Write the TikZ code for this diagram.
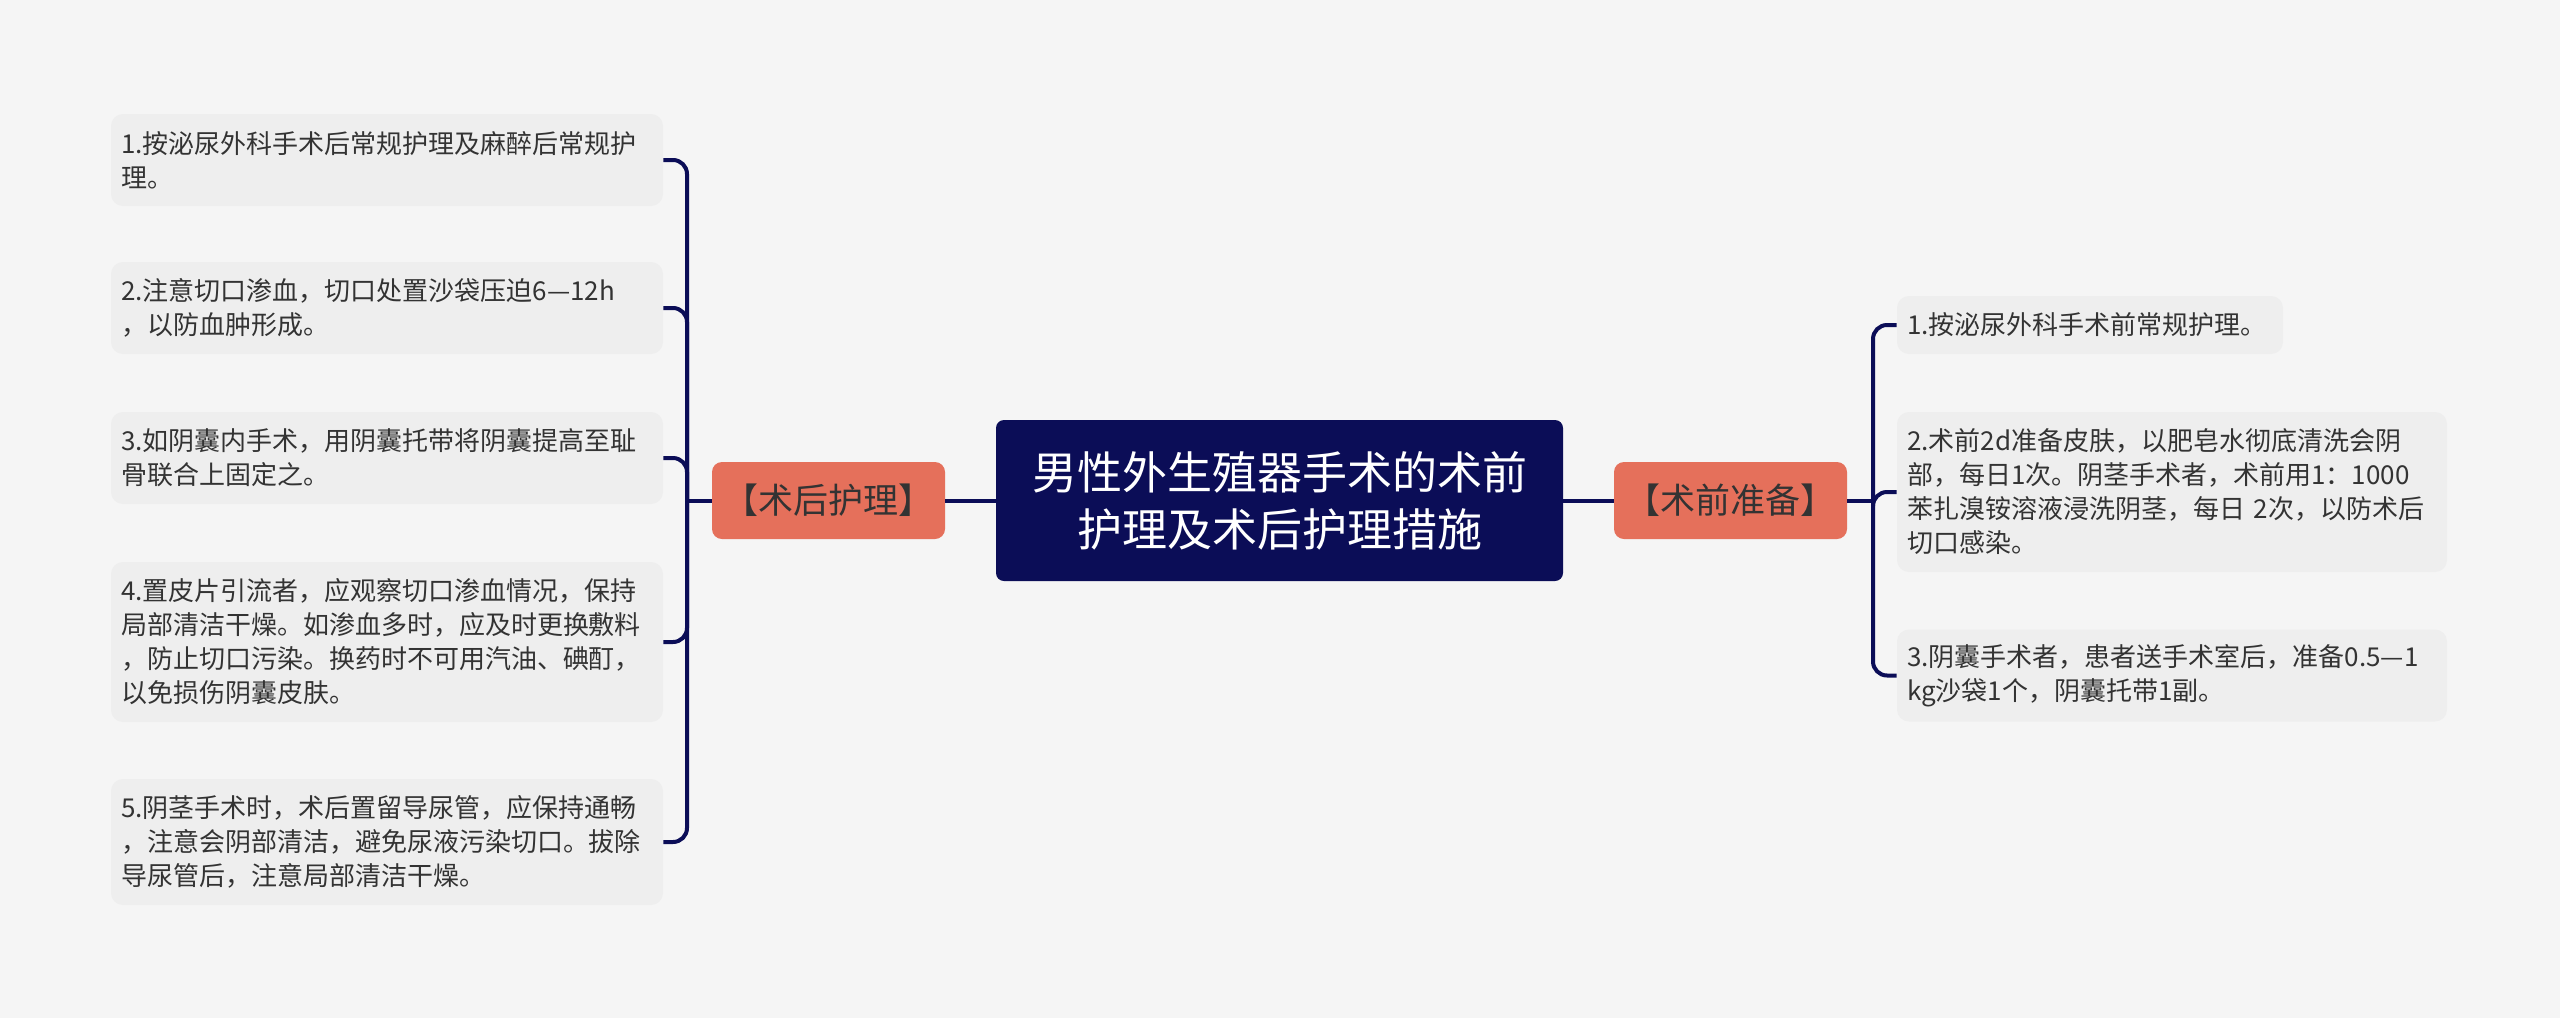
\documentclass[tikz,border=0pt]{standalone}
\usepackage{fontspec}
\setmainfont{Noto Sans CJK SC}
\definecolor{navy}{RGB}{11,13,87}
\definecolor{salmon}{RGB}{229,112,91}
\definecolor{leafgray}{RGB}{238,238,238}
\definecolor{bggray}{RGB}{245,245,245}
\definecolor{ink}{RGB}{51,51,51}

\begin{document}
\begin{tikzpicture}[x=0.5pt,y=-0.5pt,
  root/.style={rectangle,rounded corners=4pt,fill=navy,text=white,align=center,minimum width=283.5pt,minimum height=80.5pt,font=\fontsize{22.5}{28.5}\selectfont},
  branch/.style={rectangle,rounded corners=5pt,fill=salmon,text=ink,minimum width=116.5pt,minimum height=38.5pt,inner xsep=0pt,font=\fontsize{17.5}{20}\selectfont},
  leaf/.style={rectangle,rounded corners=6pt,fill=leafgray,text=ink,align=left,inner xsep=5pt,inner ysep=0pt,font=\fontsize{13}{17}\selectfont},
  nlines/.style={minimum height=12pt+17pt*#1},
  link/.style={draw=navy,line width=2pt,rounded corners=7pt}]
  \fill[bggray] (0,0) rectangle (2560,1018);

  \node [root] (root) at (1279.5,500.5) {男性外生殖器手术的术前\\护理及术后护理措施};
  \node [branch] (post) at (828.5,500.5) {【术后护理】};
  \node [branch] (pre) at (1730.5,500.5) {【术前准备】};

  \node [leaf,nlines=2,text width=266pt] (a1) at (387,160) {1.按泌尿外科手术后常规护理及麻醉后常规护\\理。};
  \node [leaf,nlines=2,text width=266pt] (a2) at (387,308) {2.注意切口渗血，切口处置沙袋压迫6—12h\\，以防血肿形成。};
  \node [leaf,nlines=2,text width=266pt] (a3) at (387,458) {3.如阴囊内手术，用阴囊托带将阴囊提高至耻\\骨联合上固定之。};
  \node [leaf,nlines=4,text width=266pt] (a4) at (387,642) {4.置皮片引流者，应观察切口渗血情况，保持\\局部清洁干燥。如渗血多时，应及时更换敷料\\，防止切口污染。换药时不可用汽油、碘酊，\\以免损伤阴囊皮肤。};
  \node [leaf,nlines=3,text width=266pt] (a5) at (387,842) {5.阴茎手术时，术后置留导尿管，应保持通畅\\，注意会阴部清洁，避免尿液污染切口。拔除\\导尿管后，注意局部清洁干燥。};

  \node [leaf,nlines=1,text width=183pt] (b1) at (2090,325) {1.按泌尿外科手术前常规护理。};
  \node [leaf,nlines=4,text width=265pt] (b2) at (2172,492) {2.术前2d准备皮肤，以肥皂水彻底清洗会阴\\部，每日1次。阴茎手术者，术前用1：1000\\苯扎溴铵溶液浸洗阴茎，每日 2次，以防术后\\切口感染。};
  \node [leaf,nlines=2,text width=265pt] (b3) at (2172,675.5) {3.阴囊手术者，患者送手术室后，准备0.5—1\\kg沙袋1个，阴囊托带1副。};

  \coordinate (pj) at (687,500.5);
  \coordinate (qj) at (1873,500.5);
  \draw [link] (root) -- (post);
  \draw [link] (root) -- (pre);
  \draw [link] (post) -- (pj);
  \draw [link] (pre) -- (qj);
  \foreach \n in {a1,a2,a3,a4,a5}
    \draw [link] (pj) |- (\n.east);
  \foreach \n in {b1,b2,b3}
    \draw [link] (qj) |- (\n.west);
\end{tikzpicture}
\end{document}
